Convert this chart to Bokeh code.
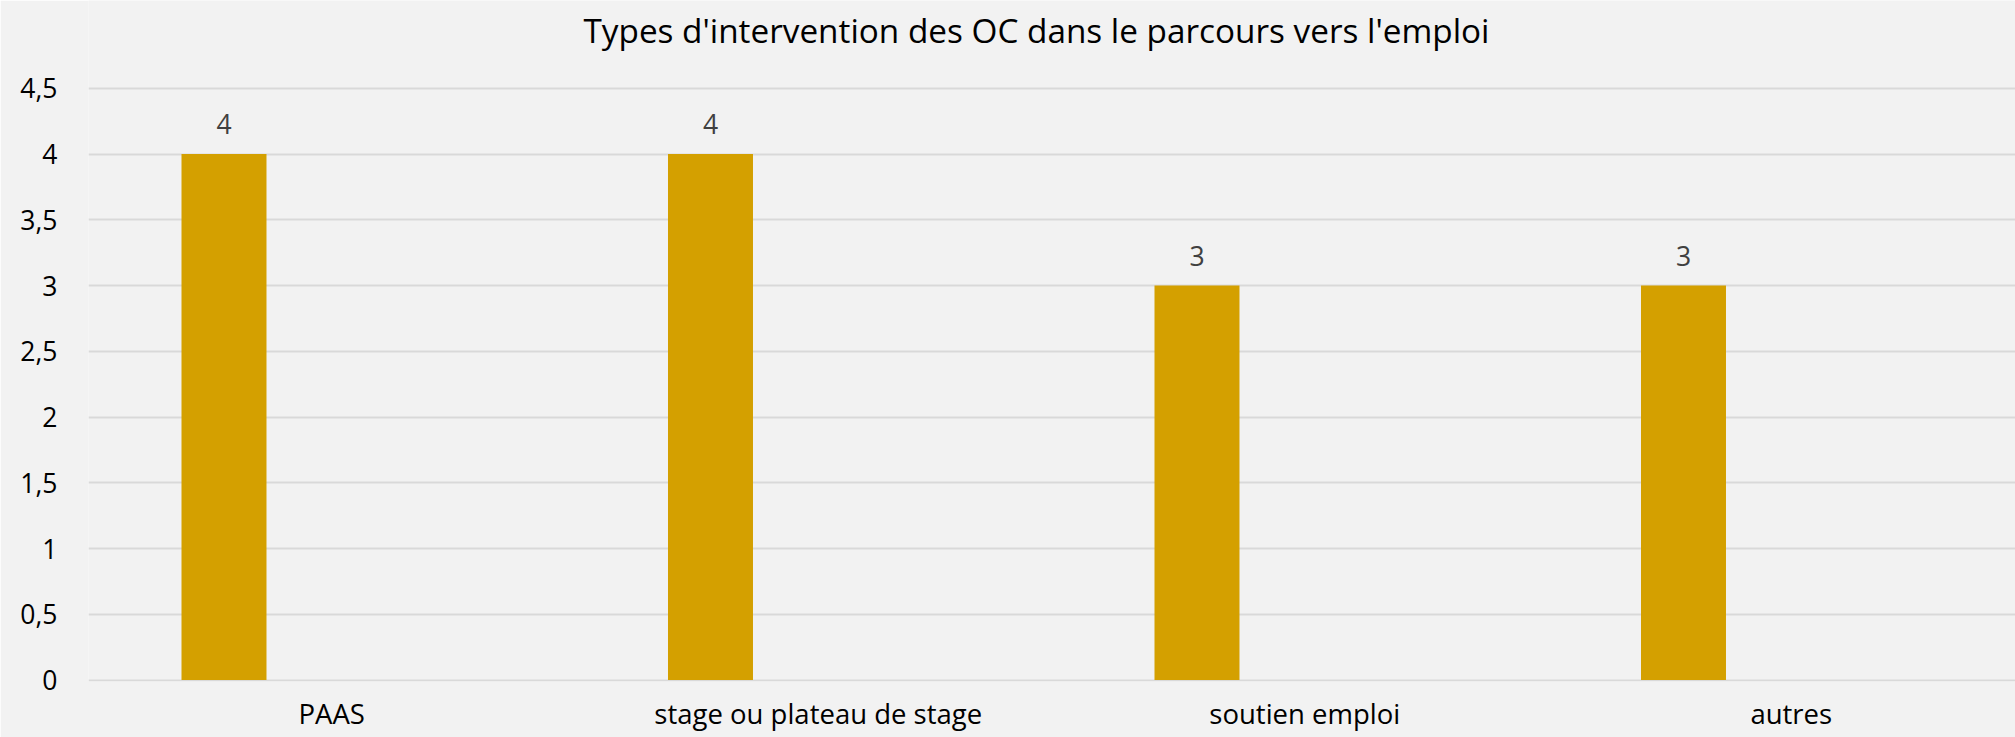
from bokeh.plotting import figure
from bokeh.models import Range1d, FixedTicker, ColumnDataSource, Label
from bokeh.transform import dodge
from bokeh.core.properties import value
from bokeh.embed import file_html
from bokeh.resources import INLINE

# ---- data ----
title_text = "Types d'intervention des OC dans le parcours vers l'emploi"
categories = ["PAAS", "stage ou plateau de stage", "soutien emploi", "autres"]
values = [4, 4, 3, 3]
y_ticks = [0, 0.5, 1, 1.5, 2, 2.5, 3, 3.5, 4, 4.5]
y_tick_labels = ["0", "0,5", "1", "1,5", "2", "2,5", "3", "3,5", "4", "4,5"]

FONT = "Open Sans"
BG = "#f2f2f2"
BAR = "#d4a000"

W, H = 2015, 737
LEFT, BOTTOM = 88, 56
FRAME_BOTTOM = H - BOTTOM          # 681
PX_PER_UNIT = 131.5

idx = list(range(len(categories)))
src = ColumnDataSource(dict(idx=idx, val=values, lab=[str(v) for v in values]))

y_start = -(FRAME_BOTTOM - 679.5) / PX_PER_UNIT
y_end = (FRAME_BOTTOM - 0) / PX_PER_UNIT + y_start

p = figure(width=W, height=H, output_backend="svg", toolbar_location=None,
           x_range=Range1d(0, (W - LEFT) / 486.5), y_range=Range1d(y_start, y_end),
           min_border_left=LEFT, min_border_right=0, min_border_top=0,
           min_border_bottom=BOTTOM)
p.background_fill_color = BG
p.border_fill_color = BG
p.outline_line_color = None

p.vbar(x=dodge("idx", 0.2785, range=p.x_range), top="val", bottom=0, width=0.1747,
       source=src, fill_color=BAR, line_color=None)

p.text(x=dodge("idx", 0.2785, range=p.x_range), y="val", text="lab", source=src,
       text_align="center", text_baseline="alphabetic", y_offset=-30,
       text_font=value(FONT), text_font_size="26.5px", text_color="#404040")

# grid
p.xgrid.visible = False
p.ygrid.ticker = FixedTicker(ticks=y_ticks)
p.ygrid.grid_line_color = "#d9d9d9"
p.ygrid.grid_line_width = 2

# y axis
p.yaxis.ticker = FixedTicker(ticks=y_ticks)
p.yaxis.major_label_overrides = {t: l for t, l in zip(y_ticks, y_tick_labels)}
p.yaxis.axis_line_color = None
p.yaxis.major_tick_line_color = None
p.yaxis.minor_tick_line_color = None
p.yaxis.major_tick_in = 0
p.yaxis.major_tick_out = 0
p.yaxis.major_label_standoff = 31
p.yaxis.major_label_text_font = FONT
p.yaxis.major_label_text_font_size = "26.5px"
p.yaxis.major_label_text_color = "#000000"

# x axis (categories at centres of unit slots)
x_ticks = [i + 0.5 for i in idx]
p.xaxis.ticker = FixedTicker(ticks=x_ticks)
p.xaxis.major_label_overrides = {t: c for t, c in zip(x_ticks, categories)}
p.xaxis.axis_line_color = None
p.xaxis.major_tick_line_color = None
p.xaxis.minor_tick_line_color = None
p.xaxis.major_tick_in = 0
p.xaxis.major_tick_out = 0
p.xaxis.major_label_standoff = 13
p.xaxis.major_label_text_font = FONT
p.xaxis.major_label_text_font_size = "27.5px"
p.xaxis.major_label_text_color = "#000000"

# chart title (screen units, relative to the plot frame's bottom-left)
title = Label(text=title_text, x=583 - LEFT, y=FRAME_BOTTOM - 29,
              x_units="screen", y_units="screen",
              text_align="left", text_baseline="alphabetic",
              text_font=FONT, text_font_size="33.3px", text_color="#000000")
p.add_layout(title)

html = file_html(p, INLINE)
html = html.replace("<body>", '<body style="background:#f2f2f2">', 1)
open("out.html", "w").write(html)
